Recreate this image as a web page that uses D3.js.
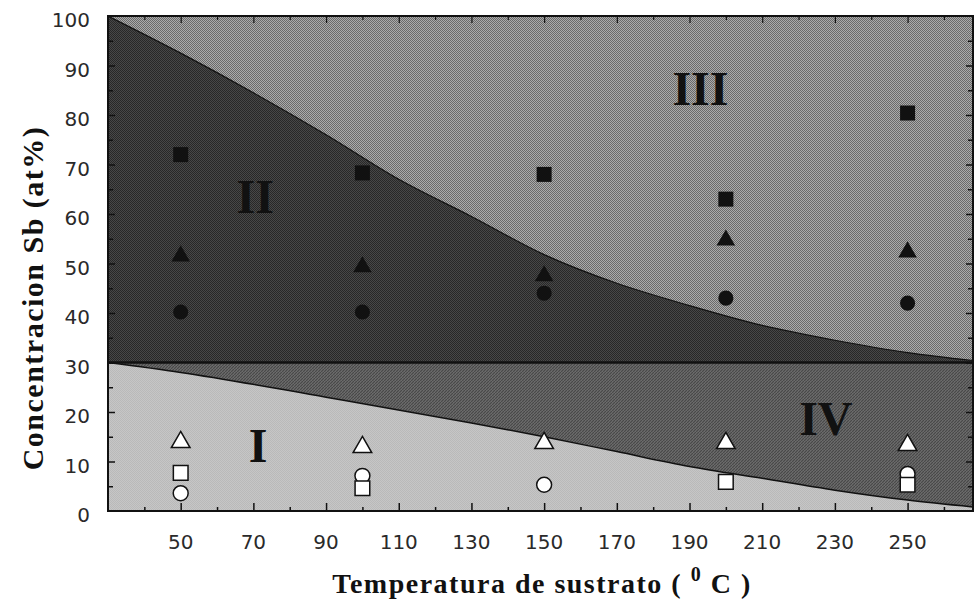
<!DOCTYPE html>
<html>
<head>
<meta charset="utf-8">
<script src="https://cdn.jsdelivr.net/npm/d3@7"></script>
<style>
    body { margin: 0; background: #fff; }
    #chart { width: 974px; height: 605px; }
</style>
</head>
<body>
<div id="chart"></div>
<script>
// substrate temperatures where samples were measured
var temps = [50, 100, 150, 200, 250];

// Sb concentration (at%) per marker series, null = no point
var solidSquares = [72, 68.3, 68, 63, 80.4];
var solidTriangles = [51.5, 49.3, 47.5, 54.7, 52.3];
var solidCircles = [40.2, 40.2, 44, 43, 42];
var openTriangles = [13.9, 12.9, 13.7, 13.7, 13.3];
var openSquares = [7.7, 4.6, null, 5.9, 5.3];
var openCircles = [3.6, 7.1, 5.3, null, 7.5];

// boundary between II and III
var upperT = [30, 50, 70, 90, 110, 130, 150, 170, 190, 210, 230, 250, 268];
var upperC = [100, 92.5, 84.5, 76, 67, 59.5, 51.8, 46, 41.5, 37.5, 34.5, 32, 30.4];

// boundary between I and IV
var lowerT = [30, 50, 90, 130, 150, 170, 190, 210, 230, 250, 268];
var lowerC = [30, 28, 23, 17.8, 15, 12, 9, 6.6, 4.2, 2.2, 0.8];

var limitC = 30;

var xTicks = [50, 70, 90, 110, 130, 150, 170, 190, 210, 230, 250];
var yTicks = [0, 10, 20, 30, 40, 50, 60, 70, 80, 90, 100];

var regionLabels = [
    { text: "III", t: 193, c: 82 },
    { text: "II", t: 70.5, c: 60.2 },
    { text: "I", t: 71.3, c: 10 },
    { text: "IV", t: 227.5, c: 15.3 }
];

var width = 974,
    height = 605,
    plotLeft = 108,
    plotRight = 973,
    plotTop = 16,
    plotBottom = 511;

var x = d3.scaleLinear().domain([30, 268]).range([plotLeft, plotRight]);
var y = d3.scaleLinear().domain([0, 100]).range([plotBottom, plotTop]);

var svg = d3.select('#chart')
    .append('svg')
    .attr('width', width)
    .attr('height', height);

var defs = svg.append('defs');

/* textures for the regions */
var checker = function(id, a, b) {
    var p = defs.append('pattern')
        .attr('id', id)
        .attr('width', 2).attr('height', 2)
        .attr('patternUnits', 'userSpaceOnUse');
    p.append('rect').attr('width', 2).attr('height', 2).attr('fill', a);
    p.append('rect').attr('width', 1).attr('height', 1).attr('fill', b);
    p.append('rect').attr('x', 1).attr('y', 1).attr('width', 1).attr('height', 1).attr('fill', b);
};
checker('texIII', '#ababab', '#6a6a6a');
checker('texII', '#484848', '#282828');
checker('texI', '#c6c6c6', '#b9b9b9');

var hatch = defs.append('pattern')
    .attr('id', 'texIV')
    .attr('width', 3).attr('height', 3)
    .attr('patternUnits', 'userSpaceOnUse');
hatch.append('rect').attr('width', 3).attr('height', 3).attr('fill', '#6c6c6c');
hatch.append('path').attr('d', 'M0,3 L3,0').attr('stroke', '#484848').attr('stroke-width', 1.2);

defs.append('clipPath').attr('id', 'plotClip')
    .append('rect')
    .attr('x', plotLeft).attr('y', plotTop)
    .attr('width', plotRight - plotLeft).attr('height', plotBottom - plotTop);

var upper = upperT.map(function(t, i) { return [t, upperC[i]]; });
var lower = lowerT.map(function(t, i) { return [t, lowerC[i]]; });

var plot = svg.append('g').attr('clip-path', 'url(#plotClip)');

// region III fills the whole plot first
plot.append('rect')
    .attr('x', plotLeft).attr('y', plotTop)
    .attr('width', plotRight - plotLeft).attr('height', plotBottom - plotTop)
    .attr('fill', 'url(#texIII)');

var areaII = d3.area()
    .x(function(d) { return x(d[0]); })
    .y0(y(limitC))
    .y1(function(d) { return y(d[1]); })
    .curve(d3.curveMonotoneX);

plot.append('path')
    .datum(upper)
    .attr('d', areaII)
    .attr('fill', 'url(#texII)');

var areaIV = d3.area()
    .x(function(d) { return x(d[0]); })
    .y0(function(d) { return y(d[1]); })
    .y1(y(limitC))
    .curve(d3.curveMonotoneX);

plot.append('path')
    .datum(lower)
    .attr('d', areaIV)
    .attr('fill', 'url(#texIV)');

var areaI = d3.area()
    .x(function(d) { return x(d[0]); })
    .y0(y(0))
    .y1(function(d) { return y(d[1]); })
    .curve(d3.curveMonotoneX);

plot.append('path')
    .datum(lower)
    .attr('d', areaI)
    .attr('fill', 'url(#texI)');

var line = d3.line()
    .x(function(d) { return x(d[0]); })
    .y(function(d) { return y(d[1]); })
    .curve(d3.curveMonotoneX);

plot.append('path').datum(upper).attr('d', line)
    .attr('fill', 'none').attr('stroke', '#111').attr('stroke-width', 1.2);
plot.append('path').datum(lower).attr('d', line)
    .attr('fill', 'none').attr('stroke', '#111').attr('stroke-width', 1.5);
plot.append('line')
    .attr('x1', plotLeft).attr('x2', plotRight)
    .attr('y1', y(limitC)).attr('y2', y(limitC))
    .attr('stroke', '#111').attr('stroke-width', 2.5);

/* region labels */
plot.selectAll('text.region')
    .data(regionLabels)
    .enter().append('text')
    .attr('class', 'region')
    .attr('x', function(d) { return x(d.t); })
    .attr('y', function(d) { return y(d.c); })
    .attr('text-anchor', 'middle')
    .attr('font-family', '"Liberation Serif", serif')
    .attr('font-weight', 'bold')
    .attr('font-size', 48)
    .attr('fill', '#111')
    .text(function(d) { return d.text; });

/* markers (open circles sit under the open squares) */
var series = [
    { values: solidSquares, type: d3.symbolSquare, size: 225, open: false },
    { values: solidTriangles, type: d3.symbolTriangle, size: 150, open: false },
    { values: solidCircles, type: d3.symbolCircle, size: 180, open: false },
    { values: openTriangles, type: d3.symbolTriangle, size: 150, open: true },
    { values: openCircles, type: d3.symbolCircle, size: 175, open: true },
    { values: openSquares, type: d3.symbolSquare, size: 215, open: true }
];

series.forEach(function(s) {
    var pts = temps.map(function(t, i) { return { t: t, c: s.values[i] }; })
        .filter(function(d) { return d.c != null; });
    plot.append('g')
        .selectAll('path')
        .data(pts)
        .enter().append('path')
        .attr('transform', function(d) { return 'translate(' + x(d.t) + ',' + y(d.c) + ')'; })
        .attr('d', d3.symbol().type(s.type).size(s.size))
        .attr('fill', s.open ? '#fff' : '#111')
        .attr('stroke', s.open ? '#111' : 'none')
        .attr('stroke-width', 1.5);
});

/* axes, ticks pointing inward */
var minorX = d3.range(40, 270, 10);
var minorY = d3.range(5, 100, 5);

var axes = svg.append('g');

axes.append('g')
    .attr('transform', 'translate(0,' + plotBottom + ')')
    .call(d3.axisTop(x).tickValues(minorX).tickSize(0).tickFormat(''))
    .call(function(g) {
        g.select('.domain').remove();
        g.selectAll('.tick line')
            .attr('y2', function(d) { return xTicks.indexOf(d) >= 0 ? -8 : -4; })
            .attr('stroke', '#111').attr('stroke-width', 1.5);
    });

axes.append('g')
    .attr('transform', 'translate(0,' + plotTop + ')')
    .call(d3.axisBottom(x).tickValues(minorX).tickSize(0).tickFormat(''))
    .call(function(g) {
        g.select('.domain').remove();
        g.selectAll('.tick line')
            .attr('y2', function(d) { return xTicks.indexOf(d) >= 0 ? 7 : 4; })
            .attr('stroke', '#111').attr('stroke-width', 1.2);
    });

axes.append('g')
    .attr('transform', 'translate(' + plotLeft + ',0)')
    .call(d3.axisRight(y).tickValues(minorY).tickSize(0).tickFormat(''))
    .call(function(g) {
        g.select('.domain').remove();
        g.selectAll('.tick line')
            .attr('x2', function(d) { return d % 10 === 0 ? 7 : 5; })
            .attr('stroke', '#111').attr('stroke-width', 1.5);
    });

axes.append('g')
    .attr('transform', 'translate(' + plotRight + ',0)')
    .call(d3.axisLeft(y).tickValues(minorY).tickSize(0).tickFormat(''))
    .call(function(g) {
        g.select('.domain').remove();
        g.selectAll('.tick line')
            .attr('x2', function(d) { return d % 10 === 0 ? -7 : -5; })
            .attr('stroke', '#111').attr('stroke-width', 1.5);
    });

// frame
axes.append('rect')
    .attr('x', plotLeft).attr('y', plotTop)
    .attr('width', plotRight - plotLeft).attr('height', plotBottom - plotTop)
    .attr('fill', 'none')
    .attr('stroke', '#111')
    .attr('stroke-width', 2);

/* tick labels */
var labels = svg.append('g')
    .attr('font-family', '"DejaVu Sans", sans-serif')
    .attr('font-size', 20)
    .attr('fill', '#2a2a2a');

labels.selectAll('text.xl')
    .data(xTicks)
    .enter().append('text')
    .attr('class', 'xl')
    .attr('x', function(d) { return x(d); })
    .attr('y', 549)
    .attr('text-anchor', 'middle')
    .text(function(d) { return d; });

labels.selectAll('text.yl')
    .data(yTicks)
    .enter().append('text')
    .attr('class', 'yl')
    .attr('x', 90)
    .attr('y', function(d) { return y(d) + 11; })
    .attr('text-anchor', 'end')
    .text(function(d) { return d; });

/* axis titles */
var xTitle = svg.append('text')
    .attr('x', 542)
    .attr('y', 593)
    .attr('text-anchor', 'middle')
    .attr('font-family', '"Liberation Serif", serif')
    .attr('font-weight', 'bold')
    .attr('font-size', 28)
    .attr('letter-spacing', 1.5)
    .attr('fill', '#111');
xTitle.append('tspan').text('Temperatura de sustrato ( ');
xTitle.append('tspan').attr('dy', -12).attr('font-size', 20).text('0');
xTitle.append('tspan').attr('dy', 12).text(' C )');

svg.append('text')
    .attr('transform', 'translate(43,298) rotate(-90)')
    .attr('text-anchor', 'middle')
    .attr('font-family', '"Liberation Serif", serif')
    .attr('font-weight', 'bold')
    .attr('font-size', 30)
    .attr('letter-spacing', 1.5)
    .attr('fill', '#111')
    .text('Concentracion Sb (at%)');
</script>
</body>
</html>
